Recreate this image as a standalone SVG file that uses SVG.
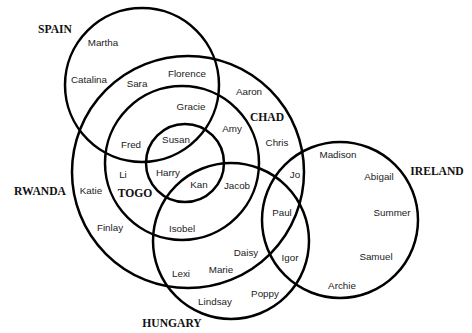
<svg xmlns="http://www.w3.org/2000/svg" width="472" height="333" viewBox="0 0 472 333">
<style>
.c{fill:none;stroke:#000;stroke-width:2.5}
.n{font-family:"Liberation Sans",Arial,sans-serif;font-size:9.8px;fill:#222;text-anchor:middle}
.l{font-family:"Liberation Serif","Times New Roman",serif;font-size:11.6px;font-weight:bold;fill:#111;text-anchor:middle}
</style>
<rect width="472" height="333" fill="#fff"/>
<g id="spain"><circle class="c" cx="142" cy="85" r="77"/><text class="l" x="55" y="33">SPAIN</text></g>
<g id="chad"><circle class="c" cx="188" cy="172" r="116"/><text class="l" x="267" y="121">CHAD</text></g>
<g id="rwanda"><text class="l" x="40" y="195">RWANDA</text></g>
<g id="togo"><circle class="c" cx="182" cy="163" r="77"/><text class="l" x="135" y="197">TOGO</text></g>
<g id="inner"><circle class="c" cx="185" cy="163" r="39"/></g>
<g id="hungary"><circle class="c" cx="231" cy="241" r="78"/><text class="l" x="172" y="327">HUNGARY</text></g>
<g id="ireland"><circle class="c" cx="340" cy="220" r="78"/><text class="l" x="437" y="175">IRELAND</text></g>
<g id="names">
<text class="n" x="103" y="46">Martha</text>
<text class="n" x="89" y="83">Catalina</text>
<text class="n" x="137" y="87">Sara</text>
<text class="n" x="187" y="77">Florence</text>
<text class="n" x="191" y="110">Gracie</text>
<text class="n" x="131" y="148">Fred</text>
<text class="n" x="176" y="143">Susan</text>
<text class="n" x="249" y="95">Aaron</text>
<text class="n" x="232" y="132">Amy</text>
<text class="n" x="277" y="146">Chris</text>
<text class="n" x="338" y="158">Madison</text>
<text class="n" x="379" y="180">Abigail</text>
<text class="n" x="392" y="216">Summer</text>
<text class="n" x="376" y="260">Samuel</text>
<text class="n" x="342" y="289">Archie</text>
<text class="n" x="295" y="178">Jo</text>
<text class="n" x="237" y="189">Jacob</text>
<text class="n" x="282" y="216">Paul</text>
<text class="n" x="246" y="256">Daisy</text>
<text class="n" x="290" y="261">Igor</text>
<text class="n" x="265" y="297">Poppy</text>
<text class="n" x="123" y="178">Li</text>
<text class="n" x="168" y="176">Harry</text>
<text class="n" x="199" y="188">Kan</text>
<text class="n" x="91" y="194">Katie</text>
<text class="n" x="110" y="231">Finlay</text>
<text class="n" x="182" y="232">Isobel</text>
<text class="n" x="181" y="277">Lexi</text>
<text class="n" x="221" y="273">Marie</text>
<text class="n" x="215" y="305">Lindsay</text>
</g>
</svg>
